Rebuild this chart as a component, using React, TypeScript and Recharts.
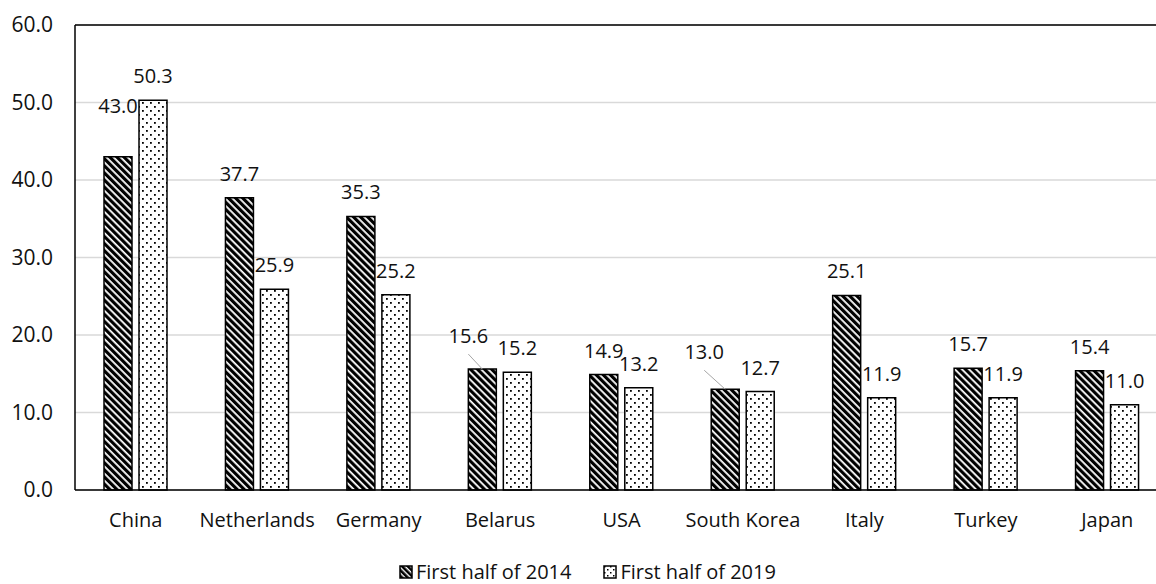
import React from "react";
import { BarChart, Bar, XAxis, YAxis, CartesianGrid, ReferenceLine, Legend, LabelList } from "recharts";

const countries = ["China", "Netherlands", "Germany", "Belarus", "USA", "South Korea", "Italy", "Turkey", "Japan"];
const firstHalf2014 = [43.0, 37.7, 35.3, 15.6, 14.9, 13.0, 25.1, 15.7, 15.4];
const firstHalf2019 = [50.3, 25.9, 25.2, 15.2, 13.2, 12.7, 11.9, 11.9, 11.0];
const seriesNames = ["First half of 2014", "First half of 2019"];
const yTicks = [0, 10, 20, 30, 40, 50, 60];

// hand-moved data labels in the original (px); a leader line is drawn when dx != 0
const nudge2014 = [
  { dx: 0, dy: -27 }, { dx: 0, dy: 0 }, { dx: 0, dy: 0 }, { dx: -14, dy: -9 }, { dx: 0, dy: 0 },
  { dx: -21, dy: -13 }, { dx: 0, dy: 0 }, { dx: 0, dy: 0 }, { dx: 0, dy: 0 },
];
const nudge2019 = countries.map(() => ({ dx: 0, dy: 0 }));

const FONT = "'Open Sans', sans-serif";
const INK = "#111";

const data = countries.map((c, i) => ({ country: c, y2014: firstHalf2014[i], y2019: firstHalf2019[i] }));

function makeLabel(nudges: { dx: number; dy: number }[]) {
  return (props: any) => {
    const { x, y, width, value, index } = props;
    const n = nudges[index] || { dx: 0, dy: 0 };
    const cx = Number(x) + Number(width) / 2;
    const top = Number(y);
    const tx = cx + n.dx;
    const base = top - 17 + n.dy;
    return (
      <g>
        {n.dx !== 0 && <line x1={tx} y1={base + 11} x2={cx} y2={top} stroke="#a6a6a6" strokeWidth={1} />}
        <text x={tx} y={base} textAnchor="middle" fontFamily={FONT} fontSize={20} fill={INK}>
          {Number(value).toFixed(1)}
        </text>
      </g>
    );
  };
}

function Swatch({ kind }: { kind: "stripe" | "dots" }) {
  const id = kind === "stripe" ? "lgStripe" : "lgDots";
  return (
    <svg width={14} height={14} style={{ display: "block" }}>
      <defs>
        <pattern id="lgStripe" width={4} height={4} patternUnits="userSpaceOnUse" patternTransform="rotate(-45)">
          <rect width={4} height={4} fill="#fff" />
          <rect width={2.6} height={4} fill="#000" />
        </pattern>
        <pattern id="lgDots" width={6} height={6} patternUnits="userSpaceOnUse">
          <rect width={6} height={6} fill="#fff" />
          <rect x={1} y={1} width={1.5} height={1.5} fill="#000" />
          <rect x={4} y={4} width={1.5} height={1.5} fill="#000" />
        </pattern>
      </defs>
      <rect x={1} y={1} width={12} height={12} fill={`url(#${id})`} stroke="#000" strokeWidth={1.5} />
    </svg>
  );
}

function LegendBox() {
  return (
    <div style={{ display: "flex", alignItems: "center", fontFamily: FONT, fontSize: 20, lineHeight: "22px", color: INK }}>
      <Swatch kind="stripe" />
      <span style={{ marginLeft: 3, marginRight: 32 }}>{seriesNames[0]}</span>
      <Swatch kind="dots" />
      <span style={{ marginLeft: 3 }}>{seriesNames[1]}</span>
    </div>
  );
}

export default function App() {
  return (
    <div style={{ position: "absolute", left: 0, top: 0, width: 1156, height: 584, overflow: "hidden", background: "#fff" }}>
      <BarChart width={1180} height={584} data={data} margin={{ top: 25, right: 12, left: 0, bottom: 0 }} barGap={7}>
        <defs>
          <pattern id="stripes" width={5} height={5} patternUnits="userSpaceOnUse" patternTransform="rotate(-45)">
            <rect width={5} height={5} fill="#fff" />
            <rect width={3.2} height={5} fill="#000" />
          </pattern>
          <pattern id="dots" width={8} height={8} patternUnits="userSpaceOnUse">
            <rect width={8} height={8} fill="#fff" />
            <rect x={2} y={2} width={1.8} height={1.8} fill="#000" />
            <rect x={6} y={6} width={1.8} height={1.8} fill="#000" />
          </pattern>
        </defs>
        <CartesianGrid vertical={false} stroke="#d9d9d9" strokeWidth={1.5} />
        <XAxis
          dataKey="country"
          height={94}
          interval={0}
          tickLine={false}
          tickSize={0}
          tickMargin={23}
          axisLine={{ stroke: "#000", strokeWidth: 1.5 }}
          tick={{ fill: INK, fontSize: 20, fontFamily: FONT }}
        />
        <YAxis
          width={75}
          domain={[0, 60]}
          ticks={yTicks}
          tickFormatter={(v: number) => v.toFixed(1)}
          tickLine={false}
          tickSize={0}
          tickMargin={22}
          axisLine={{ stroke: "#000", strokeWidth: 1.5 }}
          tick={{ fill: INK, fontSize: 21, fontFamily: FONT }}
        />
        <ReferenceLine y={60} stroke="#000" strokeWidth={1.5} />
        <Legend
          layout="horizontal"
          verticalAlign="middle"
          align="center"
          wrapperStyle={{ top: 561, left: 399, width: 500, height: 22 }}
          content={() => <LegendBox />}
        />
        <Bar dataKey="y2014" name={seriesNames[0]} barSize={28} fill="url(#stripes)" stroke="#000" strokeWidth={1.5} isAnimationActive={false}>
          <LabelList dataKey="y2014" content={makeLabel(nudge2014)} />
        </Bar>
        <Bar dataKey="y2019" name={seriesNames[1]} barSize={28} fill="url(#dots)" stroke="#000" strokeWidth={1.5} isAnimationActive={false}>
          <LabelList dataKey="y2019" content={makeLabel(nudge2019)} />
        </Bar>
      </BarChart>
    </div>
  );
}
